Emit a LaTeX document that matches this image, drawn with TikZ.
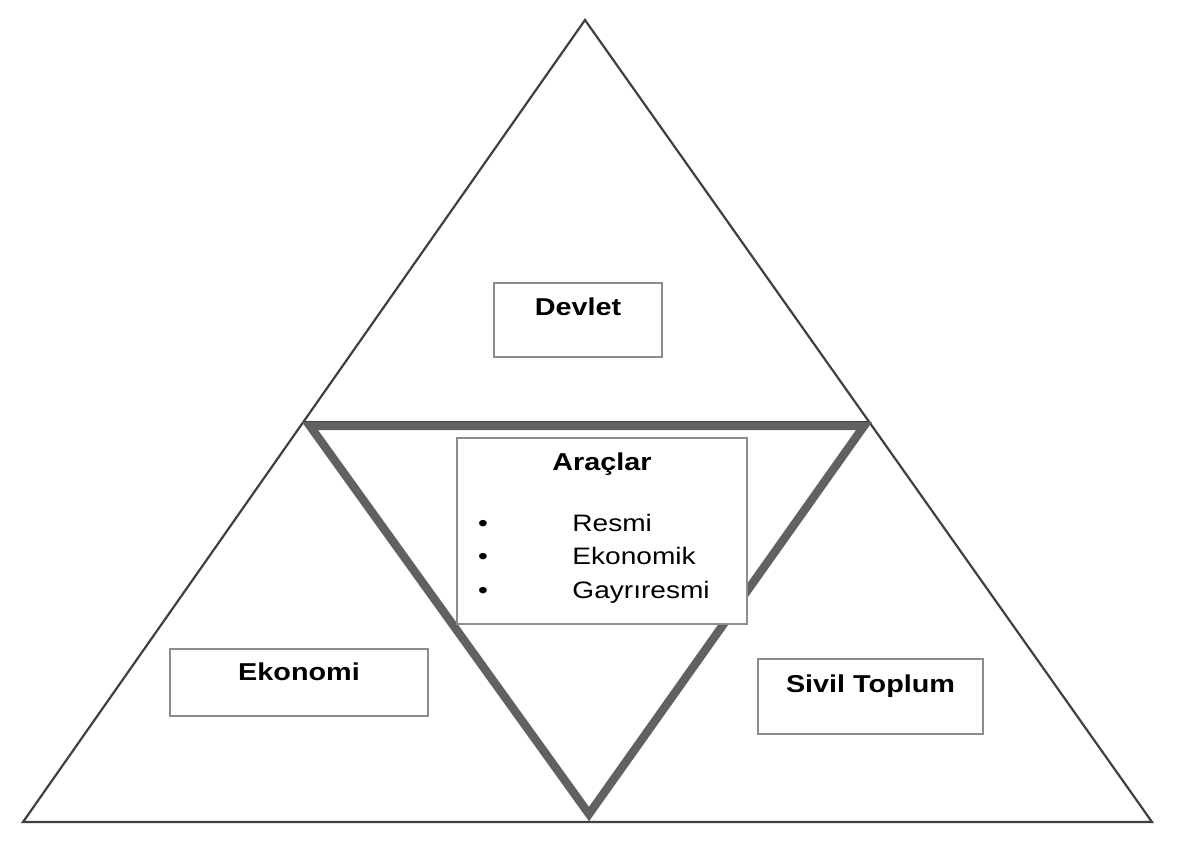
\documentclass[tikz,border=0pt]{standalone}
\usepackage{fontspec}
\setmainfont[FakeStretch=1.18]{Liberation Sans}

\begin{document}
\begin{tikzpicture}[x=0.5pt,y=-0.5pt,
	outer/.style={draw=black!75,line width=1.1pt,line join=miter},
	inner/.style={draw=black!62,line width=4.2pt,line join=miter},
	box/.style={draw=black!45,line width=0.8pt,fill=white,inner sep=0pt},
	title/.style={font=\fontsize{12.2}{14}\selectfont\bfseries,inner sep=0pt},
	item/.style={font=\fontsize{11.9}{14}\selectfont,inner sep=0pt}]
	\useasboundingbox (0,0) rectangle (1192,852);
	\coordinate (Top) at (585,20);
	\coordinate (BL) at (23,822);
	\coordinate (BR) at (1152,822);
	\coordinate (IL) at (310,426);
	\coordinate (IR) at (864,426);
	\coordinate (IB) at (589,814);
	\draw[outer] (Top)--(BL)--(BR)--cycle;
	\draw[outer] (304,422)--(869,422);
	\draw[inner] (IL)--(IR)--(IB)--cycle;
	\node[box,minimum width=84pt,minimum height=37pt,
		label={[title,yshift=6.5pt]center:Devlet}] (devlet) at (578,320) {};
	\node[box,minimum width=129pt,minimum height=33.5pt,
		label={[title,yshift=5.25pt]center:Ekonomi}] (ekonomi) at (299,682.5) {};
	\node[box,minimum width=112.5pt,minimum height=37.5pt,
		label={[title,yshift=5pt]center:Sivil Toplum}] (sivil) at (870.5,696.5) {};
	\node[box,minimum width=145pt,minimum height=93pt,
		label={[title,yshift=33.5pt]center:Araçlar}] (araclar) at (602,531) {};
	\node[item,anchor=base west] (resmi) at (572,531) {Resmi};
	\node[item,anchor=base west] (ekonomik) at (572,564.5) {Ekonomik};
	\node[item,anchor=base west] (gayri) at (572,598) {Gayrıresmi};
	\node[item,anchor=base] (b1) at (483,531) {\textbullet};
	\node[item,anchor=base] (b2) at (483,564.5) {\textbullet};
	\node[item,anchor=base] (b3) at (483,598) {\textbullet};
\end{tikzpicture}
\end{document}
